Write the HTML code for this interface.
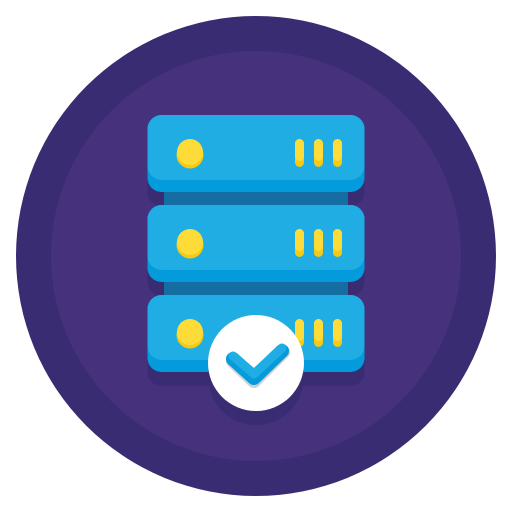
<!DOCTYPE html>
<html><head><style>html,body{margin:0;padding:0;background:#fff}</style></head>
<body>
<svg width="512" height="512" viewBox="0 0 512 512" xmlns="http://www.w3.org/2000/svg">
<circle cx="256" cy="256" r="240" fill="#3a2c72"/>
<circle cx="256" cy="256" r="205" fill="#46317d"/>
<g>
<rect x="147.5" y="129" width="217" height="77" rx="14" fill="#3a2c72"/>
<rect x="147.5" y="219" width="217" height="77" rx="14" fill="#3a2c72"/>
<rect x="147.5" y="309" width="217" height="77" rx="14" fill="#3a2c72"/>
<rect x="164" y="185" width="184" height="25" fill="#146da3"/>
<rect x="164" y="275" width="184" height="25" fill="#146da3"/>
</g>
<g id="u">
<rect x="147.5" y="115" width="217" height="77" rx="14" fill="#039bdc"/>
<rect x="147.5" y="115" width="217" height="65" rx="14" fill="#1fade3"/>
<circle cx="190" cy="155" r="13.5" fill="#f6c914"/>
<circle cx="190" cy="152" r="13" fill="#fddc39"/>
<rect x="295" y="139" width="9" height="28" rx="4.5" fill="#f6c914"/>
<rect x="295" y="139" width="9" height="22" rx="4.5" fill="#fddc39"/>
<rect x="314" y="139" width="9" height="28" rx="4.5" fill="#f6c914"/>
<rect x="314" y="139" width="9" height="22" rx="4.5" fill="#fddc39"/>
<rect x="333" y="139" width="9" height="28" rx="4.5" fill="#f6c914"/>
<rect x="333" y="139" width="9" height="22" rx="4.5" fill="#fddc39"/>
</g>
<use href="#u" y="90"/>
<use href="#u" y="180"/>
<circle cx="256" cy="377" r="48" fill="#3a2c72"/>
<circle cx="256" cy="363" r="48" fill="#ffffff"/>
<polyline points="233,361 254,381 283,352" fill="none" stroke="#d0d0d0" stroke-width="14" stroke-linecap="round" stroke-linejoin="round"/>
<polyline points="233,359 254,378 282,351" fill="none" stroke="#039bdc" stroke-width="14" stroke-linecap="round" stroke-linejoin="round"/>
<polyline points="233,356 254,374 282,348" fill="none" stroke="#1fade3" stroke-width="9" stroke-linecap="round" stroke-linejoin="round"/>
</svg>
</body></html>
